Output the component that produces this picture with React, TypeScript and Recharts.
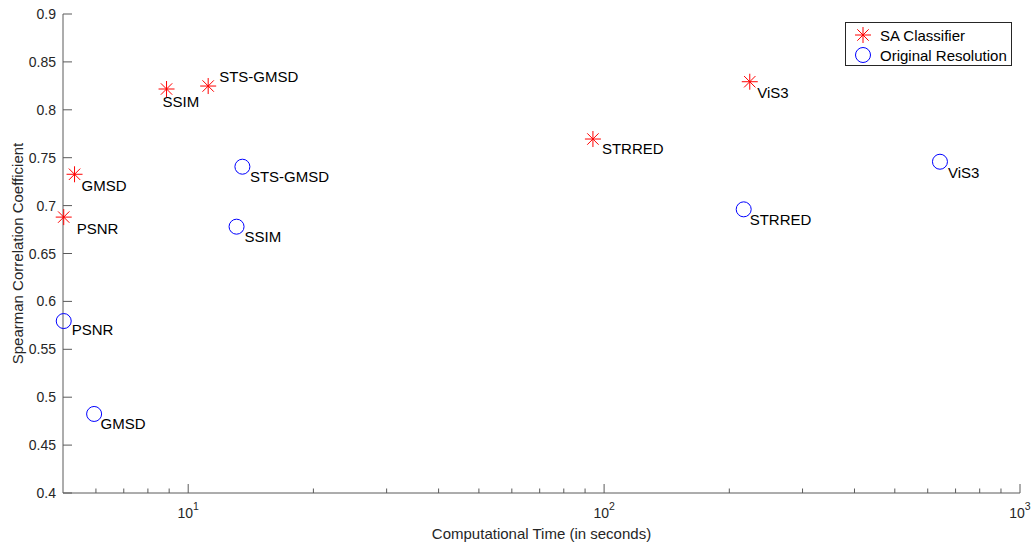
import React from "react";
import { ScatterChart, Scatter, XAxis, YAxis } from "recharts";

// metric names shared by both series (same order)
const metricNames = ["PSNR", "GMSD", "SSIM", "STS-GMSD", "STRRED", "ViS3"];

// SA Classifier: computational time (s) and SROCC
const saTime = [5.02, 5.33, 8.87, 11.17, 94, 224];
const saSrocc = [0.688, 0.7327, 0.8217, 0.8248, 0.7695, 0.8293];

// Original Resolution
const origTime = [5.02, 5.94, 13.07, 13.5, 216.6, 642];
const origSrocc = [0.5795, 0.4825, 0.678, 0.7406, 0.6961, 0.7458];

const majorTimeTicks = [10, 100, 1000];
const minorTimeTicks = [6, 7, 8, 9, 20, 30, 40, 50, 60, 70, 80, 90, 200, 300, 400, 500, 600, 700, 800, 900];
const sroccTicks = [0.4, 0.45, 0.5, 0.55, 0.6, 0.65, 0.7, 0.75, 0.8, 0.85, 0.9];

const seriesNames = ["SA Classifier", "Original Resolution"];

const saData = metricNames.map((name, i) => ({ name, time: saTime[i], srocc: saSrocc[i] }));
const origData = metricNames.map((name, i) => ({ name, time: origTime[i], srocc: origSrocc[i] }));
const timeTicks = [...majorTimeTicks, ...minorTimeTicks].sort((a, b) => a - b);

// label placement next to each marker (dx, dy of text centre)
const saLabelOffset: Record<string, [number, number]> = {
  PSNR: [13, 12],
  GMSD: [7, 11.5],
  SSIM: [-4, 12.5],
  "STS-GMSD": [11, -9],
  STRRED: [9, 9.5],
  ViS3: [7.5, 11],
};
const origLabelOffset: Record<string, [number, number]> = {
  PSNR: [8, 8.5],
  GMSD: [6.5, 9.5],
  SSIM: [8, 9.5],
  "STS-GMSD": [7.5, 9.5],
  STRRED: [6, 10],
  ViS3: [8, 11],
};

const FONT = "'Liberation Sans', Arial, Helvetica, sans-serif";
const AXIS = "#5a5a5a";
const TEXT = "#262626";
const RED = "#ff0000";
const BLUE = "#0000ff";

function Asterisk({ cx, cy, color }: { cx: number; cy: number; color: string }) {
  const r = 8;
  const d = 5.7;
  return (
    <g stroke={color} strokeWidth={1}>
      <line x1={cx - r} y1={cy} x2={cx + r} y2={cy} />
      <line x1={cx} y1={cy - r} x2={cx} y2={cy + r} />
      <line x1={cx - d} y1={cy - d} x2={cx + d} y2={cy + d} />
      <line x1={cx - d} y1={cy + d} x2={cx + d} y2={cy - d} />
    </g>
  );
}

function PointLabel({ x, y, text }: { x: number; y: number; text: string }) {
  return (
    <text x={x} y={y + 5.4} fontSize={15} fill="#000" fontFamily={FONT}>
      {text}
    </text>
  );
}

const saShape = (props: any) => {
  const { cx, cy, payload } = props;
  const [dx, dy] = saLabelOffset[payload.name];
  return (
    <g>
      <Asterisk cx={cx} cy={cy} color={RED} />
      <PointLabel x={cx + dx} y={cy + dy} text={payload.name} />
    </g>
  );
};

const origShape = (props: any) => {
  const { cx, cy, payload } = props;
  const [dx, dy] = origLabelOffset[payload.name];
  return (
    <g>
      <circle cx={cx} cy={cy} r={7.5} fill="none" stroke={BLUE} strokeWidth={1} />
      <PointLabel x={cx + dx} y={cy + dy} text={payload.name} />
    </g>
  );
};

const isMajor = (v: number) => majorTimeTicks.includes(v);

const BottomTick = (props: any) => {
  const { x, y, payload } = props;
  const v = payload.value;
  const major = isMajor(v);
  return (
    <g>
      <line x1={x} y1={y} x2={x} y2={y - (major ? 9 : 4.5)} stroke={AXIS} />
      {major && (
        <text x={x} y={y + 25} textAnchor="middle" fontSize={14} fill={TEXT} fontFamily={FONT}>
          <tspan>10</tspan>
          <tspan dy={-8} fontSize={10.5}>
            {Math.round(Math.log10(v))}
          </tspan>
        </text>
      )}
    </g>
  );
};

const TopTick = (props: any) => {
  const { x, y, payload } = props;
  const major = isMajor(payload.value);
  return <line x1={x} y1={y} x2={x} y2={y + (major ? 9 : 4.5)} stroke={AXIS} />;
};

const LeftTick = (props: any) => {
  const { x, y, payload } = props;
  return (
    <g>
      <line x1={x} y1={y} x2={x + 9} y2={y} stroke={AXIS} />
      <text x={x - 7} y={y + 5} textAnchor="end" fontSize={14} fill={TEXT} fontFamily={FONT}>
        {String(payload.value)}
      </text>
    </g>
  );
};

const RightTick = (props: any) => {
  const { x, y } = props;
  return <line x1={x} y1={y} x2={x - 9} y2={y} stroke={AXIS} />;
};

function LegendBox() {
  return (
    <div
      style={{
        position: "absolute",
        left: 845,
        top: 22,
        width: 165,
        height: 42,
        border: "1px solid #262626",
        background: "#fff",
        fontFamily: FONT,
        fontSize: 15,
        color: "#000",
      }}
    >
      {seriesNames.map((name, i) => (
        <div key={name} style={{ position: "absolute", left: 0, top: i === 0 ? 2 : 22, height: 20, display: "flex", alignItems: "center" }}>
          <svg width={34} height={20} style={{ display: "block" }}>
            {i === 0 ? <Asterisk cx={17} cy={10} color={RED} /> : <circle cx={17} cy={10} r={7.5} fill="none" stroke={BLUE} />}
          </svg>
          <span style={{ whiteSpace: "nowrap" }}>{name}</span>
        </div>
      ))}
    </div>
  );
}

export default function App() {
  return (
    <div style={{ position: "absolute", left: 0, top: 0, width: 1035, height: 550, background: "#fff", fontFamily: FONT }}>
      <ScatterChart width={1035} height={550} margin={{ top: 14, right: 15, bottom: 0, left: 0 }}>
        <XAxis
          dataKey="time"
          type="number"
          scale="log"
          domain={[5, 1000]}
          ticks={timeTicks}
          interval={0}
          height={57}
          tickSize={0}
          tickMargin={0}
          tickLine={false}
          axisLine={{ stroke: AXIS }}
          tick={BottomTick}
          label={{ value: "Computational Time (in seconds)", position: "insideBottom", offset: 11, fill: TEXT, fontSize: 15, fontFamily: FONT }}
        />
        <XAxis
          xAxisId="top"
          orientation="top"
          type="number"
          scale="log"
          domain={[5, 1000]}
          ticks={timeTicks}
          interval={0}
          height={0}
          tickSize={0}
          tickMargin={0}
          tickLine={false}
          axisLine={{ stroke: AXIS }}
          tick={TopTick}
        />
        <YAxis
          dataKey="srocc"
          type="number"
          domain={[0.4, 0.9]}
          ticks={sroccTicks}
          interval={0}
          width={63}
          tickSize={0}
          tickMargin={0}
          tickLine={false}
          axisLine={{ stroke: AXIS }}
          tick={LeftTick}
          label={{
            value: "Spearman Correlation Coefficient",
            angle: -90,
            position: "insideLeft",
            offset: 18,
            fill: TEXT,
            fontSize: 15,
            fontFamily: FONT,
            style: { textAnchor: "middle" },
          }}
        />
        <YAxis
          yAxisId="right"
          orientation="right"
          type="number"
          domain={[0.4, 0.9]}
          ticks={sroccTicks}
          interval={0}
          width={0}
          tickSize={0}
          tickMargin={0}
          tickLine={false}
          axisLine={{ stroke: AXIS }}
          tick={RightTick}
        />
        <Scatter name={seriesNames[0]} data={saData} shape={saShape} isAnimationActive={false} />
        <Scatter name={seriesNames[1]} data={origData} shape={origShape} isAnimationActive={false} />
      </ScatterChart>
      <LegendBox />
    </div>
  );
}
